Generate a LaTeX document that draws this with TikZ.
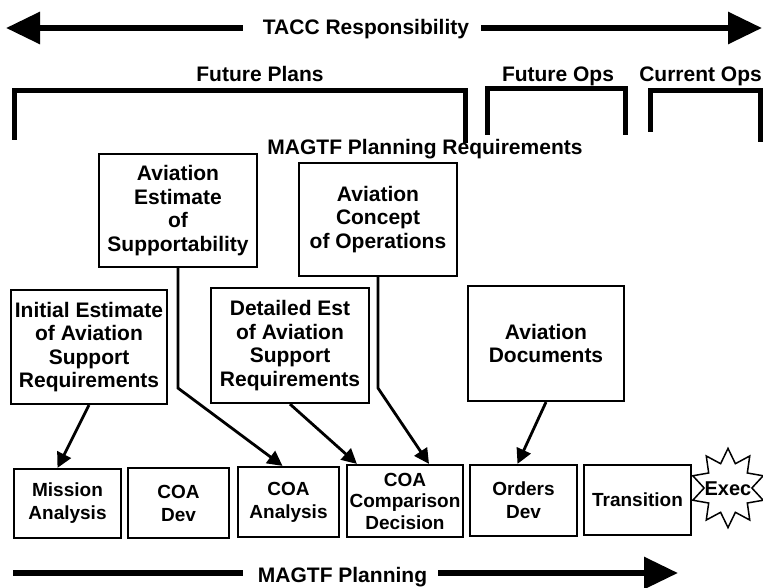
\documentclass[tikz,border=0pt]{standalone}
\usepackage{fontspec}
\setmainfont{Liberation Sans}
\usetikzlibrary{arrows.meta,shapes.geometric}

\tikzset{
  kasten/.style={draw, line width=2.2pt, align=center, inner sep=0pt, font=\fontsize{21}{23.5}\selectfont\bfseries},
  schritt/.style={draw, line width=2.2pt, align=center, inner sep=0pt, font=\fontsize{19}{23}\selectfont\bfseries},
  titel/.style={inner sep=0pt, anchor=base, font=\fontsize{21}{24}\selectfont\bfseries},
  klammer/.style={line width=5pt},
  dickpfeil/.style={line width=6pt},
  spitze/.style={-{Triangle[length=34pt,width=31pt]}},
  pfeil/.style={line width=2.8pt, -{Triangle[length=15pt,width=15pt]}},
}

\begin{document}
\begin{tikzpicture}[x=1pt, y=-1pt]
\useasboundingbox[fill=white] (0,0) rectangle (763,588);

% Oben: TACC
\node[titel] (tacc) at (366,35) {TACC Responsibility};
\coordinate (taccL) at (6,28);
\coordinate (taccR) at (762,28);
\draw[dickpfeil, spitze] ([xshift=-20pt, yshift=7pt]tacc.base west) -- (taccL); % links
\draw[dickpfeil, spitze] ([xshift=12pt, yshift=7pt]tacc.base east) -- (taccR); % rechts

% Klammern
\node[titel] (fplans) at (260,82) {Future Plans};
\node[titel] (fops) at (558,82) {Future Ops};
\node[titel, anchor=base east] (cops) at (762,82) {Current Ops};
\draw[klammer] (14.5,140) |- (465.5,90.5) -- (465.5,143);
\draw[klammer] (487.5,135) |- (625.5,88.5) -- (625.5,135);
\draw[klammer] (650.5,132) |- (760.5,90.5) -- (760.5,142);

\node[titel] (req) at (425,155) {MAGTF Planning Requirements};

% Anforderungen
\node[kasten, minimum width=158pt, minimum height=113pt] (est) at (178,210.5) {Aviation\\Estimate\\of\\Supportability};
\node[kasten, minimum width=158pt, minimum height=113pt] (concept) at (378,219.5) {Aviation\\Concept\\of Operations};
\node[kasten, minimum width=156pt, minimum height=114pt] (initial) at (89,347) {Initial Estimate\\of Aviation\\Support\\Requirements};
\node[kasten, minimum width=158pt, minimum height=115pt] (detailed) at (290,345.5) {Detailed Est\\of Aviation\\Support\\Requirements};
\node[kasten, minimum width=156pt, minimum height=115pt] (docs) at (546,343.5) {Aviation\\Documents};

% Planungsschritte
\node[schritt, minimum width=107pt, minimum height=69pt] (mission) at (67.5,503.5) {Mission\\Analysis};
\node[schritt, minimum width=101pt, minimum height=70pt] (coadev) at (178.5,503) {COA\\Dev};
\node[schritt, minimum width=101pt, minimum height=70pt] (coaan) at (288.5,502) {COA\\Analysis};
\node[schritt, minimum width=116pt, minimum height=72pt, font=\fontsize{19}{21.5}\selectfont\bfseries] (coacomp) at (405,501) {COA\\Comparison\\Decision};
\node[schritt, minimum width=107pt, minimum height=71pt] (orders) at (523.5,500.5) {Orders\\Dev};
\node[schritt, minimum width=107pt, minimum height=70pt] (trans) at (637.5,500) {Transition};
\node[star, star points=10, star point ratio=1.55, draw, line width=1.5pt, minimum size=74pt, inner sep=0pt, yscale=1.07,
  label={[font=\fontsize{20}{24}\selectfont\bfseries, yshift=-1pt]center:Exec}] (exec) at (728,488) {};

% Pfeile
\draw[pfeil] (initial.south) -- ([xshift=-10pt]mission.north);
\draw[pfeil] (est.south) -- ++(0,120) -- ([xshift=-6pt]coaan.north);
\draw[pfeil] (detailed.south) -- ([xshift=11pt]coacomp.north west);
\draw[pfeil] (concept.south) -- ++(0,111) -- ([xshift=24pt]coacomp.north);
\draw[pfeil] (docs.south) -- ([xshift=-6pt]orders.north);

% Unten: MAGTF Planning
\node[titel] (plan) at (342.5,582) {MAGTF Planning};
\coordinate (planL) at (13,573);
\coordinate (planR) at (678,573);
\draw[dickpfeil] ([xshift=-15pt, yshift=9pt]plan.base west) -- (planL);
\draw[dickpfeil, spitze] ([xshift=11pt, yshift=9pt]plan.base east) -- (planR);
\end{tikzpicture}
\end{document}
